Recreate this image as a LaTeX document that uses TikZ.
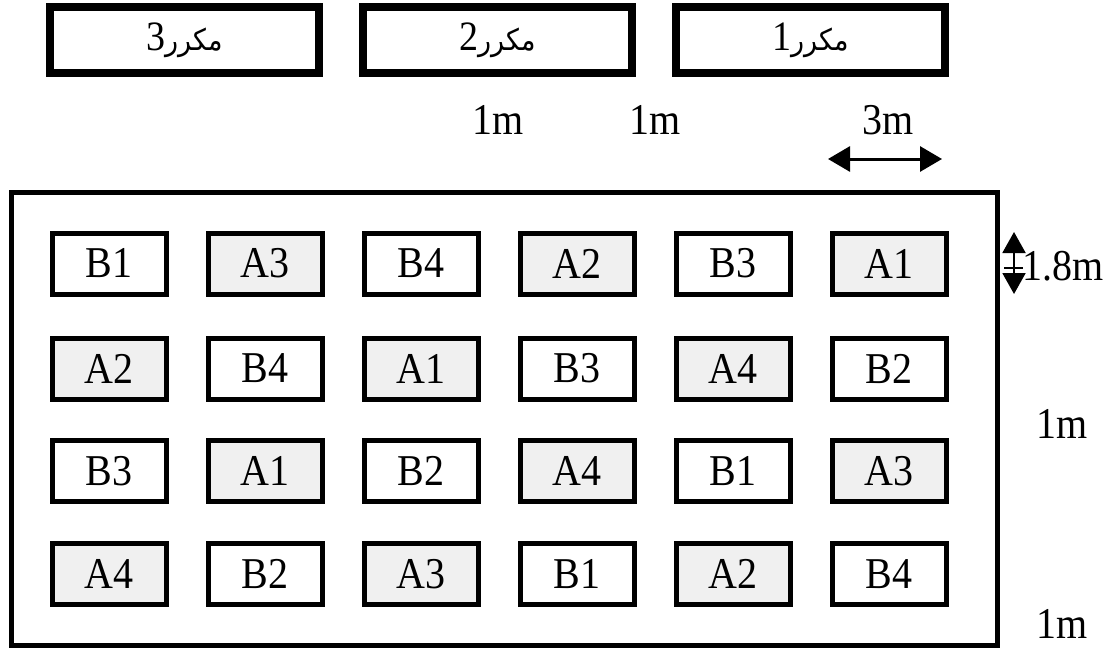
\documentclass[tikz,border=0pt]{standalone}
\usepackage{fontspec}
\setmainfont{Liberation Serif}
\newfontfamily\arabicfont[Script=Arabic]{DejaVu Sans}
\TeXXeTstate=1
\usetikzlibrary{arrows.meta}
\newcommand\stl[1]{\scalebox{1}[1.1]{#1}}
\begin{document}
\begin{tikzpicture}[x=1pt,y=-1pt,
  repbox/.style={draw, line width=8pt, minimum width=269pt, minimum height=66pt, inner sep=0pt,
    font=\fontsize{38}{38}\selectfont},
  plotw/.style={draw, line width=5pt, minimum width=114pt, minimum height=61pt, inner sep=0pt,
    fill=white, font=\fontsize{40}{40}\selectfont},
  plotg/.style={plotw, fill=black!6},
  dimlbl/.style={anchor=base, inner sep=0pt, font=\fontsize{40}{40}\selectfont},
  dimarrow/.style={line width=3pt, {Triangle[length=22pt,width=25pt]}-{Triangle[length=22pt,width=25pt]}},
  vdimarrow/.style={line width=2pt, {Triangle[length=21pt,width=23pt]}-{Triangle[length=21pt,width=23pt]}}
]
\useasboundingbox (0,0) rectangle (1113,648);
% replicate boxes
\node[repbox] (r3) at (184.5,40) {\stl{\beginR{\arabicfont\fontsize{27}{27}\selectfont مكرر}3\endR}};
\node[repbox] (r2) at (497.5,40) {\stl{\beginR{\arabicfont\fontsize{27}{27}\selectfont مكرر}2\endR}};
\node[repbox] (r1) at (810.5,40) {\stl{\beginR{\arabicfont\fontsize{27}{27}\selectfont مكرر}1\endR}};
% dimension labels top
\node[dimlbl] (d1) at (498,134) {\stl{1m}};
\node[dimlbl] (d2) at (655,134) {\stl{1m}};
\node[dimlbl] (d3) at (888,134) {\stl{3m}};
\coordinate (h1) at (828,159);
\coordinate (h2) at (942,159);
\draw[dimarrow] (h1) -- (h2);
% field
\node[draw, line width=5pt, minimum width=986pt, minimum height=453pt, inner sep=0pt] (field) at (504,418.5) {};
% plots row 1
\node[plotw] (p11) at (109,263.5) {\stl{B1}};
\node[plotg] (p12) at (265,263.5) {\stl{A3}};
\node[plotw] (p13) at (421,263.5) {\stl{B4}};
\node[plotg] (p14) at (577,263.5) {\stl{A2}};
\node[plotw] (p15) at (733,263.5) {\stl{B3}};
\node[plotg] (p16) at (889,263.5) {\stl{A1}};
% row 2
\node[plotg] (p21) at (109,368.5) {\stl{A2}};
\node[plotw] (p22) at (265,368.5) {\stl{B4}};
\node[plotg] (p23) at (421,368.5) {\stl{A1}};
\node[plotw] (p24) at (577,368.5) {\stl{B3}};
\node[plotg] (p25) at (733,368.5) {\stl{A4}};
\node[plotw] (p26) at (889,368.5) {\stl{B2}};
% row 3
\node[plotw] (p31) at (109,471) {\stl{B3}};
\node[plotg] (p32) at (265,471) {\stl{A1}};
\node[plotw] (p33) at (421,471) {\stl{B2}};
\node[plotg] (p34) at (577,471) {\stl{A4}};
\node[plotw] (p35) at (733,471) {\stl{B1}};
\node[plotg] (p36) at (889,471) {\stl{A3}};
% row 4
\node[plotg] (p41) at (109,573.7) {\stl{A4}};
\node[plotw] (p42) at (265,573.7) {\stl{B2}};
\node[plotg] (p43) at (421,573.7) {\stl{A3}};
\node[plotw] (p44) at (577,573.7) {\stl{B1}};
\node[plotg] (p45) at (733,573.7) {\stl{A2}};
\node[plotw] (p46) at (889,573.7) {\stl{B4}};
% right side dimensions
\coordinate (v1) at (1014,232);
\coordinate (v2) at (1014,294);
\draw[vdimarrow] (v1) -- (v2);
\coordinate (t1) at (1004,268);
\coordinate (t2) at (1023,268);
\draw[line width=1.5pt] (t1) -- (t2);
\node[dimlbl] (d18) at (1063,280) {\stl{1.8m}};
\node[dimlbl] (d4) at (1062,438) {\stl{1m}};
\node[dimlbl] (d5) at (1062,638) {\stl{1m}};
\end{tikzpicture}
\end{document}
